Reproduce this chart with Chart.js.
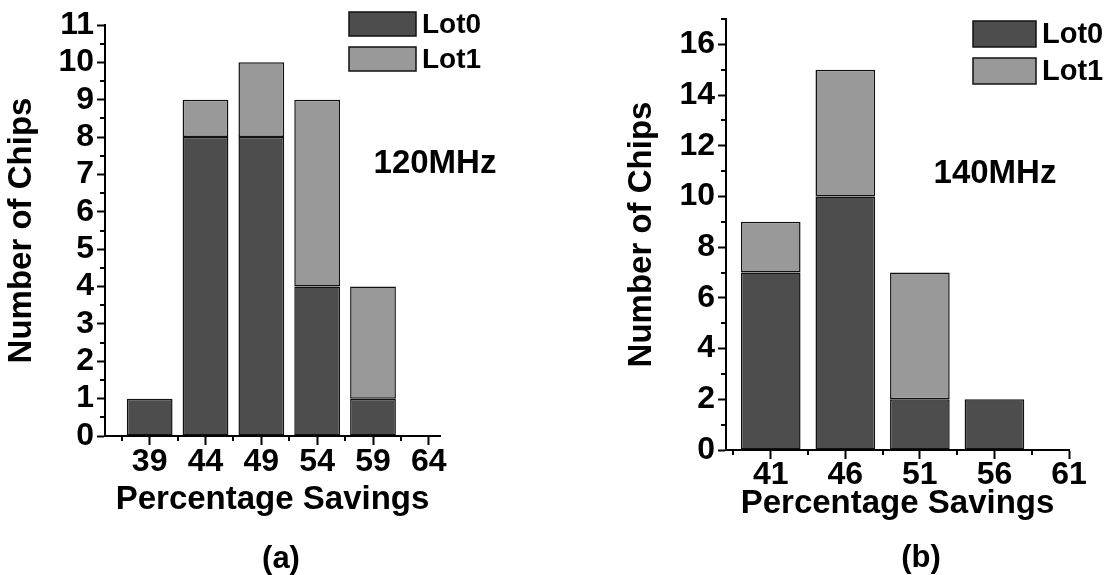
<!DOCTYPE html>
<html>
<head>
<meta charset="utf-8">
<title>Percentage Savings per Chip</title>
<script src="https://cdn.jsdelivr.net/npm/chart.js@4/dist/chart.umd.min.js"></script>
<style>
  html, body { margin: 0; padding: 0; background: #ffffff; }
  body { width: 1109px; height: 575px; position: relative; overflow: hidden; }
  .panel { position: absolute; top: 0; height: 575px; }
  #panelA { left: 0; width: 560px; }
  #panelB { left: 555px; width: 554px; }
</style>
</head>
<body>
<div class="panel" id="panelA"><canvas id="chartA"></canvas></div>
<div class="panel" id="panelB"><canvas id="chartB"></canvas></div>
<script>
// ---- (a) 120 MHz ----
const savingsA = [39, 44, 49, 54, 59];
const lot0A = [1, 8, 8, 4, 1];
const lot1A = [0, 1, 2, 5, 3];
const xTicksA = [39, 44, 49, 54, 59, 64];
const xMinorA = [36.5, 41.5, 46.5, 51.5, 56.5, 61.5];
const yTicksA = [0, 1, 2, 3, 4, 5, 6, 7, 8, 9, 10, 11];
const yMinorA = [0.5, 1.5, 2.5, 3.5, 4.5, 5.5, 6.5, 7.5, 8.5, 9.5, 10.5];

// ---- (b) 140 MHz ----
const savingsB = [41, 46, 51, 56];
const lot0B = [7, 10, 2, 2];
const lot1B = [2, 5, 5, 0];
const xTicksB = [41, 46, 51, 56, 61];
const xMinorB = [38.5, 43.5, 48.5, 53.5, 58.5];
const yTicksB = [0, 2, 4, 6, 8, 10, 12, 14, 16];
const yMinorB = [1, 3, 5, 7, 9, 11, 13, 15, 17];

const seriesNames = ['Lot0', 'Lot1'];
const seriesColors = ['#4d4d4d', '#999999'];

const FAMILY = "'Liberation Sans', Arial, Helvetica, sans-serif";
const INK = '#000000';

// short outward ticks between the labelled ones
const minorTicks = {
  id: 'minorTicks',
  afterDraw(chart, args, o) {
    const { ctx, chartArea, scales: { x, y } } = chart;
    ctx.save();
    ctx.strokeStyle = INK;
    ctx.lineWidth = o.width;
    ctx.beginPath();
    o.x.forEach(v => {
      const px = Math.round(x.getPixelForValue(v));
      ctx.moveTo(px, chartArea.bottom);
      ctx.lineTo(px, chartArea.bottom + o.length);
    });
    o.y.forEach(v => {
      const py = Math.round(y.getPixelForValue(v));
      ctx.moveTo(chartArea.left, py);
      ctx.lineTo(chartArea.left - o.length, py);
    });
    ctx.stroke();
    ctx.restore();
  }
};

// stacked legend with wide swatches inside the plot
const boxLegend = {
  id: 'boxLegend',
  afterDraw(chart, args, o) {
    const ctx = chart.ctx;
    ctx.save();
    chart.data.datasets.forEach((ds, i) => {
      const top = o.top + i * o.step;
      ctx.fillStyle = ds.backgroundColor;
      ctx.fillRect(o.left, top, o.boxWidth, o.boxHeight);
      ctx.lineWidth = 1.5;
      ctx.strokeStyle = '#111111';
      ctx.strokeRect(o.left, top, o.boxWidth, o.boxHeight);
      ctx.fillStyle = INK;
      ctx.font = `bold ${o.size}px ${FAMILY}`;
      ctx.textAlign = 'left';
      ctx.textBaseline = 'middle';
      ctx.fillText(ds.label, o.left + o.boxWidth + o.gap, top + o.boxHeight / 2 + 1);
    });
    ctx.restore();
  }
};

// free text: frequency note and panel letter
const panelText = {
  id: 'panelText',
  afterDraw(chart, args, o) {
    const ctx = chart.ctx;
    ctx.save();
    ctx.fillStyle = INK;
    ctx.textAlign = 'center';
    ctx.textBaseline = 'middle';
    o.items.forEach(t => {
      ctx.font = `bold ${t.size}px ${FAMILY}`;
      ctx.fillText(t.text, t.x, t.y);
    });
    ctx.restore();
  }
};

function makeDatasets(savings, lot0, lot1, barPct) {
  return [lot0, lot1].map((vals, k) => ({
    label: seriesNames[k],
    data: savings.map((s, i) => ({ x: s, y: vals[i] })),
    backgroundColor: seriesColors[k],
    borderColor: '#111111',
    borderWidth: 1.5,
    borderSkipped: false,
    barPercentage: barPct,
    categoryPercentage: 1
  }));
}

function makeChart(canvasId, cfg) {
  const tickFont = { family: FAMILY, size: 32, weight: 'bold', lineHeight: 1 };
  const titleFont = { family: FAMILY, size: 33, weight: 'bold', lineHeight: 1.2 };
  return new Chart(document.getElementById(canvasId), {
    type: 'bar',
    data: { datasets: makeDatasets(cfg.savings, cfg.lot0, cfg.lot1, cfg.barPct) },
    options: {
      responsive: true,
      maintainAspectRatio: false,
      devicePixelRatio: 1,
      animation: false,
      events: [],
      layout: { padding: cfg.padding },
      scales: {
        x: {
          type: 'linear',
          min: cfg.xMin,
          max: cfg.xMax,
          offset: false,
          stacked: true,
          afterBuildTicks: s => { s.ticks = cfg.xTicks.map(v => ({ value: v })); },
          afterFit: s => { s.height = cfg.xAxisHeight; },
          ticks: {
            font: tickFont, color: INK, padding: cfg.xTickPad,
            maxRotation: 0, minRotation: 0, autoSkip: false,
            callback: v => String(v)
          },
          grid: {
            offset: false, drawOnChartArea: false, drawTicks: true,
            tickLength: 9, tickWidth: 2, tickColor: INK
          },
          border: { display: true, color: INK, width: 2 },
          title: {
            display: true, text: 'Percentage Savings', color: INK,
            font: titleFont, padding: { top: 0, bottom: cfg.xTitlePad }
          }
        },
        y: {
          type: 'linear',
          min: 0,
          max: cfg.yMax,
          stacked: true,
          afterBuildTicks: s => { s.ticks = cfg.yTicks.map(v => ({ value: v })); },
          afterFit: s => { s.width = cfg.yAxisWidth; },
          ticks: { font: tickFont, color: INK, padding: 3, autoSkip: false },
          grid: {
            drawOnChartArea: false, drawTicks: true,
            tickLength: 8, tickWidth: 2, tickColor: INK
          },
          border: { display: true, color: INK, width: 2 },
          title: {
            display: true, text: 'Number of Chips', color: INK,
            font: titleFont, padding: { top: 2, bottom: 0 }
          }
        }
      },
      plugins: {
        legend: { display: false },
        tooltip: { enabled: false },
        minorTicks: { x: cfg.xMinor, y: cfg.yMinor, length: 5, width: 2 },
        boxLegend: cfg.legend,
        panelText: { items: cfg.texts }
      }
    },
    plugins: [minorTicks, boxLegend, panelText]
  });
}

makeChart('chartA', {
  savings: savingsA, lot0: lot0A, lot1: lot1A, barPct: 0.82,
  xMin: 35, xMax: 65, xTicks: xTicksA, xMinor: xMinorA,
  yMax: 11, yTicks: yTicksA, yMinor: yMinorA,
  padding: { left: 0, top: 25, right: 120, bottom: 39 },
  xAxisHeight: 100, yAxisWidth: 105, xTickPad: 1, xTitlePad: 16,
  legend: { left: 349, top: 12, step: 35, boxWidth: 67, boxHeight: 24, gap: 6, size: 28 },
  texts: [
    { text: '120MHz', x: 435, y: 164, size: 33 },
    { text: '(a)', x: 281, y: 559, size: 31 }
  ]
});

makeChart('chartB', {
  savings: savingsB, lot0: lot0B, lot1: lot1B, barPct: 0.8,
  xMin: 38, xMax: 61, xTicks: xTicksB, xMinor: xMinorB,
  yMax: 17, yTicks: yTicksB, yMinor: yMinorB,
  padding: { left: 65, top: 17, right: 40, bottom: 25 },
  xAxisHeight: 100, yAxisWidth: 106, xTickPad: 0, xTitlePad: 26,
  legend: { left: 418, top: 21, step: 37, boxWidth: 63, boxHeight: 26, gap: 6, size: 29 },
  texts: [
    { text: '140MHz', x: 440, y: 174, size: 33 },
    { text: '(b)', x: 366, y: 558, size: 31 }
  ]
});
</script>
</body>
</html>
